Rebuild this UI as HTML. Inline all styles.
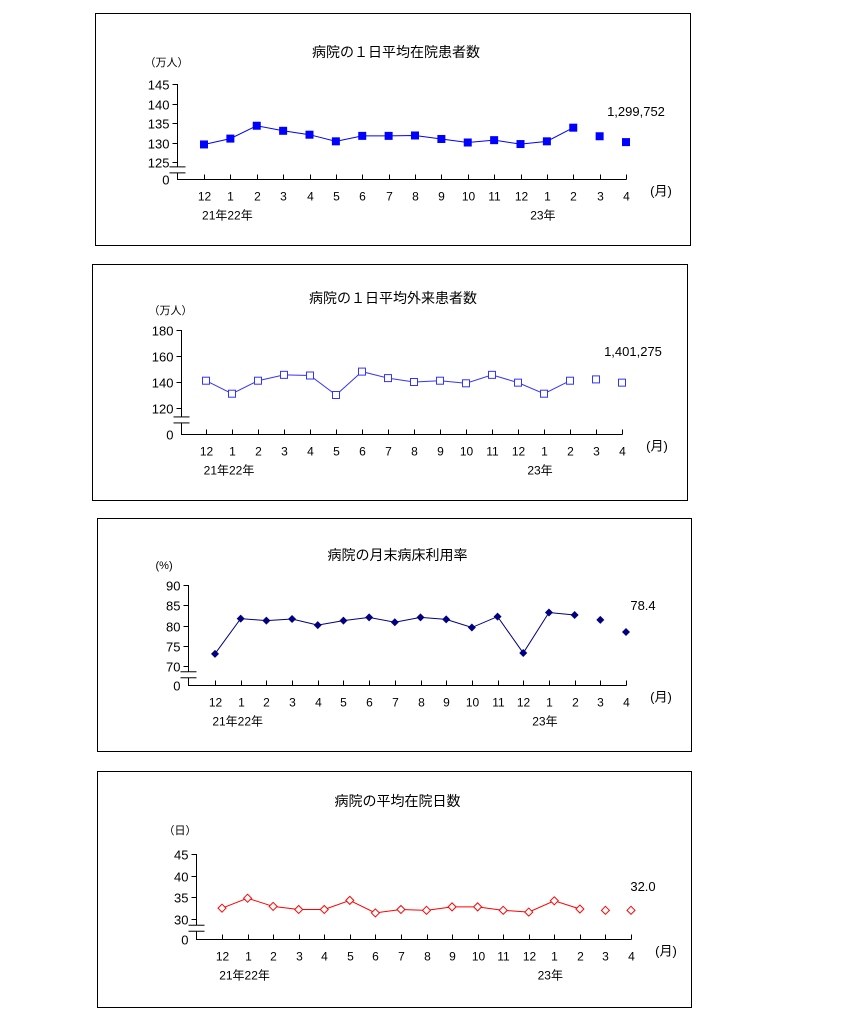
<!DOCTYPE html>
<html><head><meta charset="utf-8"><style>
body{margin:0;background:#fff;}
svg{display:block;font-family:"Liberation Sans","Noto Sans CJK JP",sans-serif;}
</style></head><body>
<svg id="c" width="853" height="1026"></svg>
<script>
const months=["12","1","2","3","4","5","6","7","8","9","10","11","12","1","2","3","4"];
const inpatients=[129.5,131,134.3,133,132,130.3,131.7,131.7,131.8,130.9,130,130.6,129.6,130.3,133.8,131.6,130.1];
const inpatientTicks=[125,130,135,140,145];
const outpatients=[141,131,141,145.5,145,130,148,143,140,141,139,145.5,139.5,131,141,142,139.5];
const outpatientTicks=[120,140,160,180];
const bedRate=[73,81.7,81.2,81.6,80.1,81.2,82,80.8,82,81.5,79.5,82.2,73.2,83.2,82.6,81.4,78.4];
const bedTicks=[70,75,80,85,90];
const stayDays=[32.5,34.8,32.9,32.2,32.2,34.3,31.4,32.2,32,32.8,32.8,32,31.6,34.2,32.3,32,32];
const stayTicks=[30,35,40,45];
const NS="http://www.w3.org/2000/svg";
const svg=document.getElementById('c');
function el(tag,attrs,parent){const e=document.createElementNS(NS,tag);for(const k in attrs)e.setAttribute(k,attrs[k]);(parent||svg).appendChild(e);return e;}
function txt(x,y,s,anchor,size,parent,col){const t=el('text',{x:x,y:y,'font-size':size||12,'text-anchor':anchor||'middle',fill:col||'#000'},parent);t.textContent=s;return t;}
function chart(c){
  const g=el('g',{});
  
  
  const box=el('rect',{x:c.bx,y:c.by,width:c.bw,height:c.bh,fill:'none',stroke:'#000','stroke-width':1},g);
  
  
  const tt=txt(c.bx+c.bw/2+3,c.ty,c.title,'middle',14,g);
  
  
  const ut=txt(c.ax-33,c.uy,c.unit,'start',11,g);
  
  
  const t0=c.ticks[0],t1=c.ticks[c.ticks.length-1];
  const y=v=>c.yBot+(v-t0)/(t1-t0)*(c.yTop-c.yBot);
  const x=i=>c.x0+i*(c.x1-c.x0)/(months.length-1);
  const axis=el('path',{d:`M${c.ax} ${c.yTop}V${c.base}H${c.x1+0.5}`,stroke:'#000',fill:'none','stroke-width':1},g);
  
  
  c.ticks.forEach(v=>{const yy=Math.round(y(v))+0.5;el('line',{x1:c.ax-5,x2:c.ax,y1:yy,y2:yy,stroke:'#000'},g);
    const l=txt(c.ax-8,yy+5,String(v),'end',13,g);
    
    });
  const bk=c.yBot+(c.base-c.yBot)*0.45;
  el('line',{x1:c.ax-8,x2:c.ax+8,y1:bk-3,y2:bk-3,stroke:'#000'},g);
  el('line',{x1:c.ax-8,x2:c.ax+8,y1:bk+3,y2:bk+3,stroke:'#000'},g);
  el('rect',{x:c.ax-0.5,y:bk-2.5,width:1.5,height:5,fill:'#fff'},g);
  const z=txt(c.ax-8,c.base+5,'0','end',13,g);
  
  
  months.forEach((m,i)=>{const xx=Math.round(x(i))+0.5;el('line',{x1:xx,x2:xx,y1:c.base-5,y2:c.base,stroke:'#000'},g);
    const l=txt(xx,c.base+21,m,'middle',12,g);
    
    });
  const y1=txt(x(1)-3,c.base+40,'21年22年','middle',12,g);
  
  
  const y2=txt(x(13)-4,c.base+40,'23年','middle',12,g);
  
  
  const mo=txt(x(16)+35,c.base+16,'(月)','middle',13,g,'#000');
  
  
  const pts=c.data.map((v,i)=>[x(i),y(v)]);
  const line=el('polyline',{points:pts.slice(0,15).map(p=>p.join(',')).join(' '),fill:'none',stroke:c.color,'stroke-width':1},g);
  
  
  pts.forEach(p=>{let m;
    if(c.marker==='square')m=el('rect',{x:p[0]-4,y:p[1]-4,width:8,height:8,fill:c.color},g);
    else if(c.marker==='osquare')m=el('rect',{x:p[0]-3.5,y:p[1]-3.5,width:7,height:7,fill:'#fff',stroke:c.color},g);
    else if(c.marker==='diamond')m=el('path',{d:`M${p[0]} ${p[1]-4}L${p[0]+4} ${p[1]}L${p[0]} ${p[1]+4}L${p[0]-4} ${p[1]}Z`,fill:c.color},g);
    else m=el('path',{d:`M${p[0]} ${p[1]-4}L${p[0]+4} ${p[1]}L${p[0]} ${p[1]+4}L${p[0]-4} ${p[1]}Z`,fill:'#fff',stroke:c.color},g);
    
    });
  const an=txt(c.annX,c.annY,c.ann,'middle',13,g);
  
  
}
chart({name:'inpatients-chart',bx:95.5,by:13.5,bw:595,bh:232,ty:57,title:'病院の１日平均在院患者数',unit:'（万人）',uy:66,
 ax:177.5,yTop:84,yBot:162,base:179.5,x0:204,x1:626,ticks:inpatientTicks,data:inpatients,color:'#0000ff',marker:'square',ann:'1,299,752',annX:636,annY:116});
chart({name:'outpatients-chart',bx:92.5,by:264.5,bw:595,bh:236,ty:303,title:'病院の１日平均外来患者数',unit:'（万人）',uy:314,
 ax:181.5,yTop:330,yBot:408,base:434.5,x0:206,x1:622,ticks:outpatientTicks,data:outpatients,color:'#3333ff',marker:'osquare',ann:'1,401,275',annX:633,annY:356});
chart({name:'bed-rate-chart',bx:97.5,by:518.5,bw:594,bh:233,ty:560,title:'病院の月末病床利用率',unit:'(%)',uy:569,
 ax:188.5,yTop:585,yBot:666,base:685.5,x0:215,x1:626,ticks:bedTicks,data:bedRate,color:'#000080',marker:'diamond',ann:'78.4',annX:643,annY:610});
chart({name:'stay-days-chart',bx:97.5,by:771.5,bw:594,bh:236,ty:806,title:'病院の平均在院日数',unit:'（日）',uy:834,
 ax:196.5,yTop:854,yBot:919,base:939.5,x0:222,x1:631,ticks:stayTicks,data:stayDays,color:'#ff0000',marker:'odiamond',ann:'32.0',annX:643,annY:891});
</script>
</body></html>
